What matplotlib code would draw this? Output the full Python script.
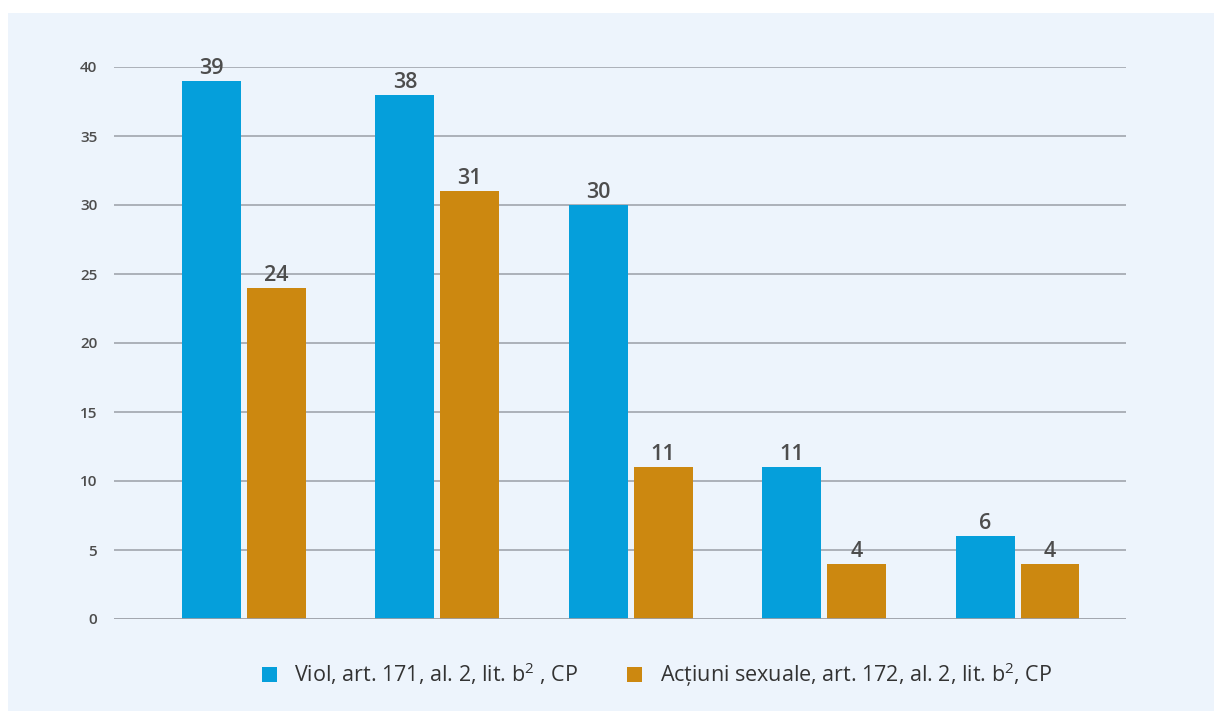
import matplotlib
matplotlib.use("Agg")
import matplotlib.pyplot as plt
import numpy as np
from matplotlib.patches import Rectangle, Patch

plt.rcParams['font.family'] = ['Open Sans', 'DejaVu Sans']
plt.rcParams['mathtext.fontset'] = 'custom'
plt.rcParams['mathtext.rm'] = 'Open Sans'
plt.rcParams['mathtext.it'] = 'Open Sans'
plt.rcParams['mathtext.bf'] = 'Open Sans:bold'

series_names = [r"Viol, art. 171, al. 2, lit. b$^{\mathrm{2}}$ , CP",
                r"Acțiuni sexuale, art. 172, al. 2, lit. b$^{\mathrm{2}}$, CP"]
viol = [39, 38, 30, 11, 6]
actiuni = [24, 31, 11, 4, 4]
yticks = [0, 5, 10, 15, 20, 25, 30, 35, 40]

blue = '#059FDB'
orange = '#CC8810'
panel = '#EDF4FC'
text_col = '#4D4D4D'

W, H = 1214, 711
fig = plt.figure(figsize=(W/100, H/100), dpi=100)
fig.patch.set_facecolor('white')
fig.patches.append(Rectangle((8/W, 0), 1, 1 - 13/H, transform=fig.transFigure,
                             facecolor=panel, edgecolor='none', zorder=-10))

ax = fig.add_axes([114/W, 1 - 619/H, (1126-114)/W, (619-67)/H])
ax.set_facecolor('none')

x = np.arange(len(viol))
bw = 0.305
gap = 0.031
off = (bw + gap) / 2
b1 = ax.bar(x - off, viol, bw, color=blue, zorder=3)
b2 = ax.bar(x + off, actiuni, bw, color=orange, zorder=3)

for bars in (b1, b2):
    for r in bars:
        ax.annotate(f"{int(r.get_height())}", (r.get_x() + r.get_width()/2, r.get_height()),
                    xytext=(0, 1.5), textcoords='offset points', ha='center', va='bottom',
                    fontsize=15.5, fontweight='semibold', color=text_col, zorder=5,
                    annotation_clip=False)

ax.set_xlim(-0.672, 4.561)
ax.set_ylim(0, 40)
ax.set_yticks(yticks)
ax.set_yticklabels([str(t) for t in yticks], fontsize=11, fontweight='semibold', color=text_col)
ax.tick_params(axis='y', length=0, pad=12)
ax.set_xticks([])
for s in ax.spines.values():
    s.set_visible(False)
for t in yticks[1:]:
    ax.axhline(t, color='#9A9EA6', lw=1.1, zorder=1)
ax.axhline(0, color='#9A9EA6', lw=2, zorder=4)

handles = [Patch(facecolor=blue, edgecolor='none'), Patch(facecolor=orange, edgecolor='none')]
leg = fig.legend(handles, series_names, loc='center', bbox_to_anchor=(0.541, 1 - 675/H),
                 ncol=2, frameon=False, fontsize=15.5, handlelength=0.7, handleheight=0.7,
                 handletextpad=0.8, columnspacing=2.3, labelcolor='#333333')

fig.savefig('out.png', dpi=100, facecolor=fig.get_facecolor())
